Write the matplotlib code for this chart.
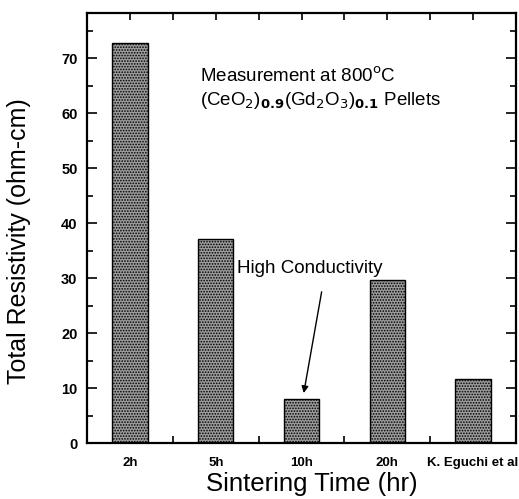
import matplotlib.pyplot as plt
from matplotlib.ticker import MultipleLocator

# data
labels = ['2h', '5h', '10h', '20h', 'K. Eguchi et al']
resistivity = [72.7, 37.1, 8.0, 29.6, 11.7]

plt.rcParams['font.family'] = ['Liberation Sans', 'DejaVu Sans']
plt.rcParams['hatch.linewidth'] = 0.8
plt.rcParams['hatch.color'] = '#1a1a1a'

fig = plt.figure(figsize=(5.19, 4.99), dpi=100)
ax = fig.add_axes([0.168, 0.112, 0.826, 0.862])

x = list(range(len(labels)))
ax.bar(x, resistivity, width=0.41, color='#9c9c9c', edgecolor='black',
       linewidth=1.0, hatch='......', zorder=3)

ax.set_xlim(-0.5, 4.5)
ax.set_ylim(0, 78.2)
ax.set_xticks(x)
ax.set_xticklabels(labels, fontsize=9.5, fontweight='bold')
ax.xaxis.set_minor_locator(MultipleLocator(0.5))
ax.yaxis.set_major_locator(MultipleLocator(10))
ax.yaxis.set_minor_locator(MultipleLocator(5))
for lab in ax.get_yticklabels():
    lab.set_fontweight('bold')
ax.tick_params(axis='y', labelsize=10.5, pad=7)
ax.tick_params(which='both', direction='in', top=True, right=True, width=1.2)
ax.tick_params(which='major', length=7)
ax.tick_params(which='minor', length=4)
ax.tick_params(axis='x', which='both', length=5, pad=10)
for s in ax.spines.values():
    s.set_linewidth(1.6)
    s.set_zorder(4)

ax.set_ylabel('Total Resistivity (ohm-cm)', fontsize=18)
ax.yaxis.set_label_coords(-0.13, 0.47)
ax.set_xlabel('Sintering Time (hr)', fontsize=18.5)
ax.xaxis.set_label_coords(0.524, -0.066)

ax.text(0.82, 66.7, 'Measurement at 800$^{\\rm o}$C', fontsize=13.5, va='center')
ax.text(0.82, 62.2, '(CeO$_2$)$_{\\bf 0.9}$(Gd$_2$O$_3$)$_{\\bf 0.1}$ Pellets',
        fontsize=13.5, va='center')
ax.text(1.25, 31.8, 'High Conductivity', fontsize=13.5, va='center')
ax.annotate('', xy=(2.02, 8.6), xytext=(2.24, 28.0),
            arrowprops=dict(arrowstyle='-|>', color='black', lw=1.0,
                            mutation_scale=10), zorder=5)

fig.savefig('out.png', dpi=100)
